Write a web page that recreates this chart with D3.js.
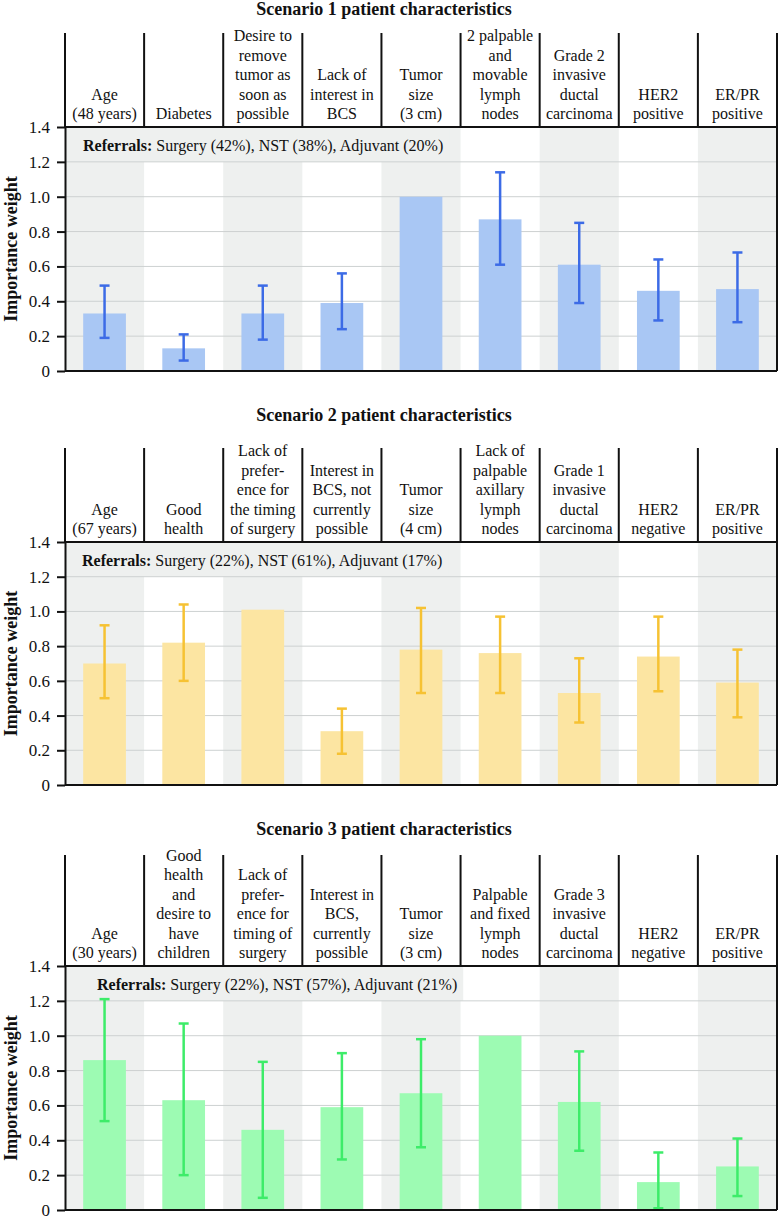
<!DOCTYPE html>
<html>
<head>
<meta charset="utf-8">
<script src="https://cdn.jsdelivr.net/npm/d3@7"></script>
<style>
body { margin: 0; background: #fff; }
</style>
</head>
<body>
<svg id="chart" width="779" height="1218" font-family="'Liberation Serif', 'Times New Roman', Times, 'DejaVu Serif', serif"></svg>
<script>
// scenario 1
const labels1 = [["Age", "(48 years)"], ["Diabetes"], ["Desire to", "remove", "tumor as", "soon as", "possible"],
    ["Lack of", "interest in", "BCS"], ["Tumor", "size", "(3 cm)"], ["2 palpable", "and", "movable", "lymph", "nodes"],
    ["Grade 2", "invasive", "ductal", "carcinoma"], ["HER2", "positive"], ["ER/PR", "positive"]];
const weights1 = [0.33, 0.13, 0.33, 0.39, 1.0, 0.87, 0.61, 0.46, 0.47];
const errLow1 = [0.19, 0.06, 0.18, 0.24, null, 0.61, 0.39, 0.29, 0.28];
const errHigh1 = [0.49, 0.21, 0.49, 0.56, null, 1.14, 0.85, 0.64, 0.68];
const referrals1 = "Surgery (42%), NST (38%), Adjuvant (20%)";

// scenario 2
const labels2 = [["Age", "(67 years)"], ["Good", "health"], ["Lack of", "prefer-", "ence for", "the timing", "of surgery"],
    ["Interest in", "BCS, not", "currently", "possible"], ["Tumor", "size", "(4 cm)"], ["Lack of", "palpable", "axillary", "lymph", "nodes"],
    ["Grade 1", "invasive", "ductal", "carcinoma"], ["HER2", "negative"], ["ER/PR", "positive"]];
const weights2 = [0.70, 0.82, 1.01, 0.31, 0.78, 0.76, 0.53, 0.74, 0.59];
const errLow2 = [0.50, 0.60, null, 0.18, 0.53, 0.53, 0.36, 0.54, 0.39];
const errHigh2 = [0.92, 1.04, null, 0.44, 1.02, 0.97, 0.73, 0.97, 0.78];
const referrals2 = "Surgery (22%), NST (61%), Adjuvant (17%)";

// scenario 3
const labels3 = [["Age", "(30 years)"], ["Good", "health", "and", "desire to", "have", "children"],
    ["Lack of", "prefer-", "ence for", "timing of", "surgery"], ["Interest in", "BCS,", "currently", "possible"],
    ["Tumor", "size", "(3 cm)"], ["Palpable", "and fixed", "lymph", "nodes"],
    ["Grade 3", "invasive", "ductal", "carcinoma"], ["HER2", "negative"], ["ER/PR", "positive"]];
const weights3 = [0.86, 0.63, 0.46, 0.59, 0.67, 1.0, 0.62, 0.16, 0.25];
const errLow3 = [0.51, 0.20, 0.07, 0.29, 0.36, null, 0.34, 0.01, 0.08];
const errHigh3 = [1.21, 1.07, 0.85, 0.90, 0.98, null, 0.91, 0.33, 0.41];
const referrals3 = "Surgery (22%), NST (57%), Adjuvant (21%)";

const yTicks = [0, 0.2, 0.4, 0.6, 0.8, 1.0, 1.2, 1.4];
const yTickLabels = ["0", "0.2", "0.4", "0.6", "0.8", "1.0", "1.2", "1.4"];

const panels = [
    {title: "Scenario 1 patient characteristics", labels: labels1, w: weights1, lo: errLow1, hi: errHigh1, ref: referrals1,
     titleY: 15, headTop: 33, top: 127, bottom: 371, refX: 83, bar: "#a9c7f4", err: "#3c6be6"},
    {title: "Scenario 2 patient characteristics", labels: labels2, w: weights2, lo: errLow2, hi: errHigh2, ref: referrals2,
     titleY: 421, headTop: 448, top: 542, bottom: 785, refX: 82, bar: "#fce5a2", err: "#f6c233"},
    {title: "Scenario 3 patient characteristics", labels: labels3, w: weights3, lo: errLow3, hi: errHigh3, ref: referrals3,
     titleY: 835, headTop: 855, top: 966, bottom: 1210, refX: 97, bar: "#9dfbb3", err: "#3dec69"}
];

const FONT = "'Liberation Serif', 'Times New Roman', Times, 'DejaVu Serif', serif";
const left = 65, right = 777;
const svg = d3.select("#chart");

panels.forEach(drawPanel);

function drawPanel(p) {
    const g = svg.append("g").attr("font-family", FONT).attr("fill", "#111");
    const idx = d3.range(p.w.length);
    const x = d3.scaleBand().domain(idx).range([left, right]);
    const y = d3.scaleLinear().domain([0, 1.4]).range([p.bottom, p.top]);
    const bw = x.bandwidth();
    const barW = bw * 0.54;

    // title
    g.append("text")
        .attr("x", 384).attr("y", p.titleY)
        .attr("text-anchor", "middle")
        .attr("font-size", 18).attr("font-weight", "bold")
        .text(p.title);

    // stripes
    g.selectAll(".stripe")
        .data(idx.filter(i => i % 2 == 0))
        .join("rect")
        .attr("x", i => x(i)).attr("y", y(1.4))
        .attr("width", bw).attr("height", y(0) - y(1.4))
        .attr("fill", "#eef0ef");

    // referral box + text
    const refBox = g.append("rect").attr("fill", "#eef0ef");
    const refText = g.append("text")
        .attr("x", p.refX).attr("y", y(1.4) + 24)
        .attr("font-size", 16);
    refText.append("tspan").attr("font-weight", "bold").text("Referrals:");
    refText.append("tspan").text(" " + p.ref);
    const tw = refText.node().getComputedTextLength();
    refBox.attr("x", left).attr("y", y(1.4))
        .attr("width", p.refX + tw + 6 - left)
        .attr("height", y(1.2) - y(1.4));

    // gridlines
    g.selectAll(".grid")
        .data(yTicks.filter(t => t > 0 && t < 1.4))
        .join("line")
        .attr("x1", left).attr("x2", right)
        .attr("y1", d => y(d)).attr("y2", d => y(d))
        .attr("stroke", "#cdd1d1").attr("stroke-width", 1);

    // bars
    g.selectAll(".bar")
        .data(idx)
        .join("rect")
        .attr("x", i => x(i) + (bw - barW) / 2)
        .attr("y", i => y(p.w[i]))
        .attr("width", barW)
        .attr("height", i => y(0) - y(p.w[i]))
        .attr("fill", p.bar);

    // error bars
    const eb = g.selectAll(".err")
        .data(idx.filter(i => p.lo[i] != null))
        .join("g")
        .attr("stroke", p.err).attr("stroke-width", 2.5);
    eb.append("line")
        .attr("x1", i => x(i) + bw / 2).attr("x2", i => x(i) + bw / 2)
        .attr("y1", i => y(p.lo[i])).attr("y2", i => y(p.hi[i]));
    eb.append("line")
        .attr("x1", i => x(i) + bw / 2 - 5).attr("x2", i => x(i) + bw / 2 + 5)
        .attr("y1", i => y(p.lo[i])).attr("y2", i => y(p.lo[i]));
    eb.append("line")
        .attr("x1", i => x(i) + bw / 2 - 5).attr("x2", i => x(i) + bw / 2 + 5)
        .attr("y1", i => y(p.hi[i])).attr("y2", i => y(p.hi[i]));

    // y axis
    const ax = g.append("g")
        .attr("transform", `translate(${left},0)`)
        .call(d3.axisLeft(y).tickValues(yTicks)
            .tickFormat((d, i) => yTickLabels[i])
            .tickSize(8).tickSizeOuter(0).tickPadding(7));
    ax.attr("font-family", FONT).attr("font-size", 17);
    ax.select(".domain").attr("stroke", "#111").attr("stroke-width", 2);
    ax.selectAll(".tick line").attr("stroke", "#111").attr("stroke-width", 2);
    ax.selectAll(".tick text").attr("fill", "#111");

    // frame and header lines
    const frame = g.append("g").attr("stroke", "#111").attr("stroke-width", 2);
    frame.append("line").attr("x1", left).attr("x2", right).attr("y1", y(1.4)).attr("y2", y(1.4));
    frame.append("line").attr("x1", left).attr("x2", right).attr("y1", y(0)).attr("y2", y(0));
    frame.append("line").attr("x1", right).attr("x2", right).attr("y1", p.headTop).attr("y2", y(0));
    frame.selectAll(".sep")
        .data(idx)
        .join("line")
        .attr("x1", i => x(i)).attr("x2", i => x(i))
        .attr("y1", p.headTop).attr("y2", y(1.4));

    // header labels
    const lh = 19.5;
    g.selectAll(".head")
        .data(idx)
        .join("text")
        .attr("text-anchor", "middle")
        .attr("font-size", 16)
        .each(function(i) {
            const lines = p.labels[i];
            const t = d3.select(this);
            lines.forEach((s, k) => {
                t.append("tspan")
                    .attr("x", x(i) + bw / 2)
                    .attr("y", y(1.4) - 8 - (lines.length - 1 - k) * lh)
                    .text(s);
            });
        });

    // y label
    g.append("text")
        .attr("transform", `translate(17,${(p.top + p.bottom) / 2}) rotate(-90)`)
        .attr("text-anchor", "middle")
        .attr("font-size", 18).attr("font-weight", "bold")
        .text("Importance weight");
}
</script>
</body>
</html>
